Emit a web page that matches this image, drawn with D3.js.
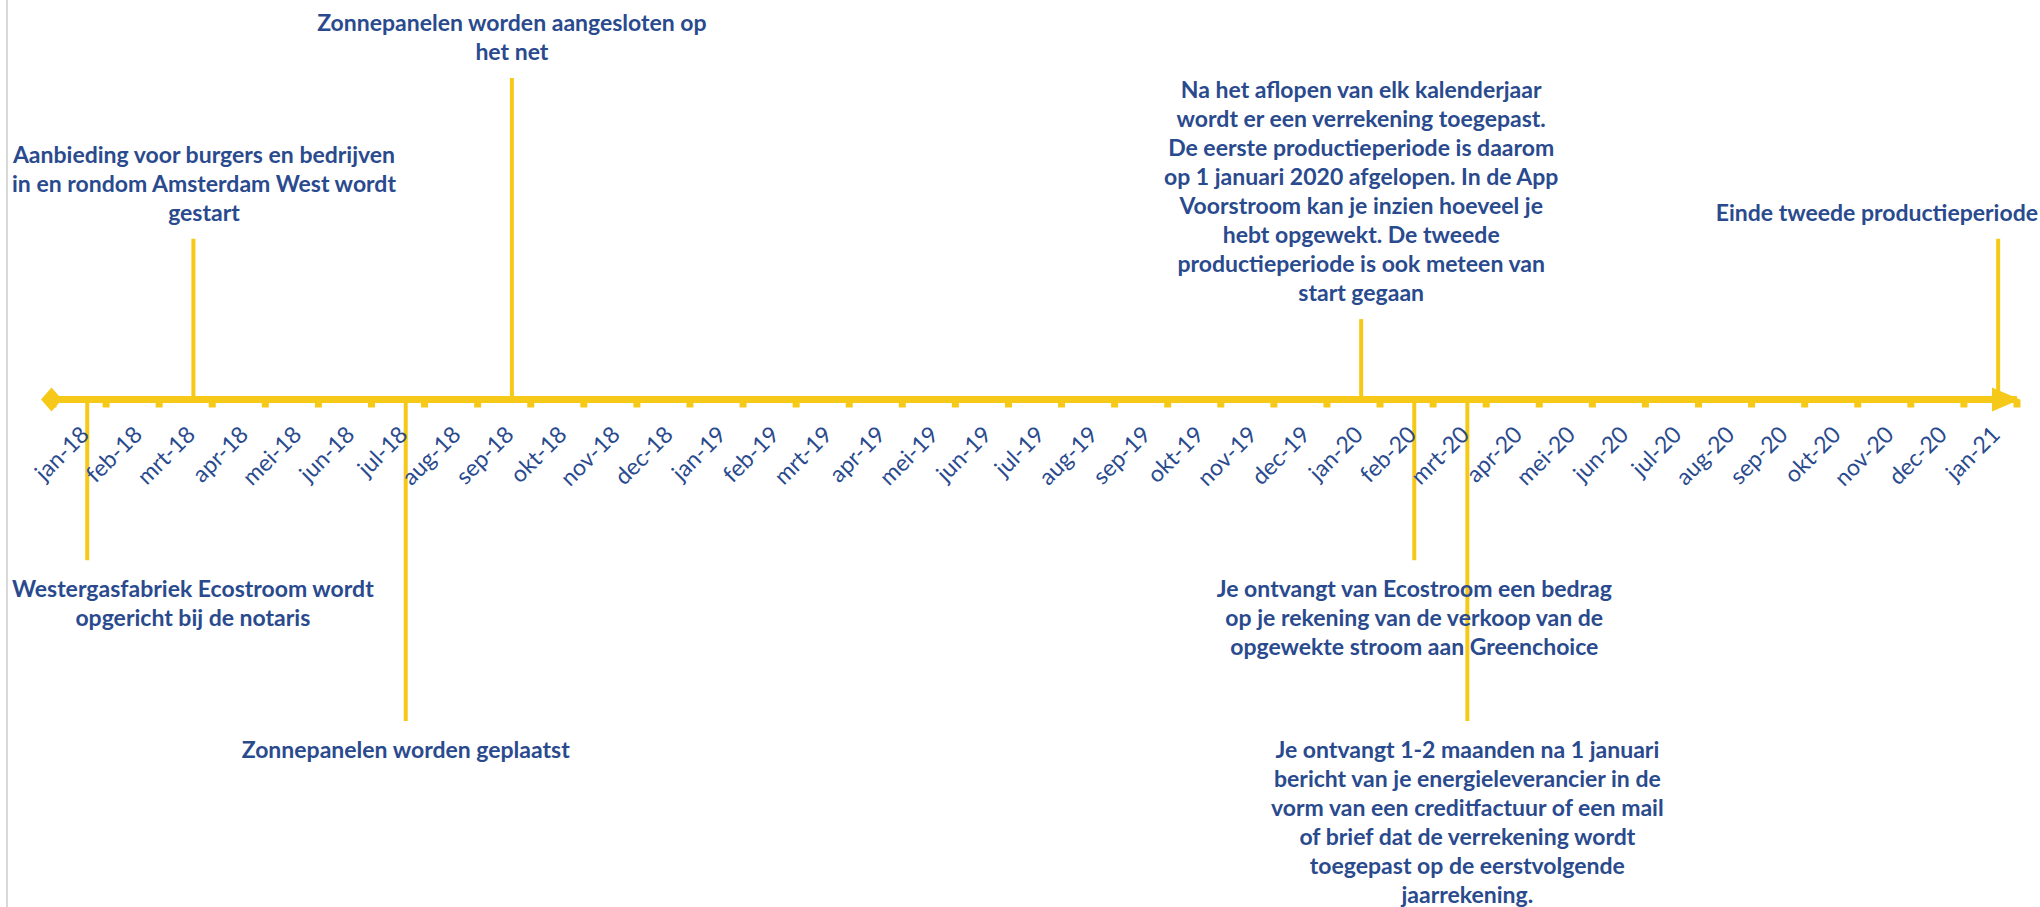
<!DOCTYPE html>
<html>
<head>
<meta charset="utf-8">
<script src="https://cdn.jsdelivr.net/npm/d3@7"></script>
<style>
  html, body { margin: 0; padding: 0; background: #fff; }
  svg { display: block; }
  .month-label { font-family: Lato, 'Open Sans', sans-serif; font-size: 23px; fill: #2a4a8e; }
  .event-label { font-family: Lato, 'Open Sans', sans-serif; font-size: 23px; font-weight: 700; fill: #2a4a8e; }
</style>
</head>
<body>
<div id="chart"></div>
<script>
const months = [
  'jan-18', 'feb-18', 'mrt-18', 'apr-18', 'mei-18', 'jun-18', 'jul-18', 'aug-18', 'sep-18', 'okt-18', 'nov-18', 'dec-18',
  'jan-19', 'feb-19', 'mrt-19', 'apr-19', 'mei-19', 'jun-19', 'jul-19', 'aug-19', 'sep-19', 'okt-19', 'nov-19', 'dec-19',
  'jan-20', 'feb-20', 'mrt-20', 'apr-20', 'mei-20', 'jun-20', 'jul-20', 'aug-20', 'sep-20', 'okt-20', 'nov-20', 'dec-20',
  'jan-21'
];

// events: month, day in month, height (above + / below -) and label lines
const eventMonths = ['jan-18', 'mrt-18', 'jul-18', 'sep-18', 'jan-20', 'feb-20', 'mrt-20', 'jan-21'];
const eventDays = [20, 20, 20, 20, 20, 20, 20, 20];
const eventHeights = [-50, 50, -100, 100, 25, -50, -100, 50];
const eventLabels = [
  ['Westergasfabriek Ecostroom wordt', 'opgericht bij de notaris'],
  ['Aanbieding voor burgers en bedrijven', 'in en rondom Amsterdam West wordt', 'gestart'],
  ['Zonnepanelen worden geplaatst'],
  ['Zonnepanelen worden aangesloten op', 'het net'],
  ['Na het aflopen van elk kalenderjaar', 'wordt er een verrekening toegepast.', 'De eerste productieperiode is daarom',
   'op 1 januari 2020 afgelopen. In de App', 'Voorstroom kan je inzien hoeveel je', 'hebt opgewekt. De tweede',
   'productieperiode is ook meteen van', 'start gegaan'],
  ['Je ontvangt van Ecostroom een bedrag', 'op je rekening van de verkoop van de', 'opgewekte stroom aan Greenchoice'],
  ['Je ontvangt 1-2 maanden na 1 januari', 'bericht van je energieleverancier in de', 'vorm van een creditfactuur of een mail',
   'of brief dat de verrekening wordt', 'toegepast op de eerstvolgende', 'jaarrekening.'],
  ['Einde tweede productieperiode']
];

const width = 2040;
const height = 907;
const gold = '#f6c918';
const lineGap = 29;

const events = eventMonths.map((m, i) => ({ month: m, day: eventDays[i], value: eventHeights[i], lines: eventLabels[i] }));

const svg = d3.select('#chart').append('svg')
  .attr('width', width)
  .attr('height', height);

svg.append('rect').attr('width', width).attr('height', height).attr('fill', '#fff');

// chart area border on the left
svg.append('line')
  .attr('x1', 7).attr('x2', 7)
  .attr('y1', 0).attr('y2', height)
  .attr('stroke', '#d9d9d9')
  .attr('stroke-width', 2);

const x = d3.scaleBand().domain(months).range([53, 2017]).paddingInner(0).paddingOuter(0);
const y = d3.scaleLinear().domain([-100, 100]).range([721, 78]);
const y0 = y(0);
const eventX = (d) => x(d.month) + x.bandwidth() * d.day / 31;

// event stems
svg.append('g')
  .selectAll('line')
  .data(events)
  .join('line')
  .attr('x1', eventX)
  .attr('x2', eventX)
  .attr('y1', y0)
  .attr('y2', (d) => y(d.value))
  .attr('stroke', gold)
  .attr('stroke-width', 4);

// main axis line
const xStart = x.range()[0];
const xEnd = x.range()[1];
svg.append('line')
  .attr('x1', xStart).attr('x2', xEnd)
  .attr('y1', y0).attr('y2', y0)
  .attr('stroke', gold)
  .attr('stroke-width', 7);

// tick marks between months
const boundaries = months.map((m) => x(m)).concat([xEnd]);
svg.append('g')
  .selectAll('line')
  .data(boundaries)
  .join('line')
  .attr('x1', (d) => d)
  .attr('x2', (d) => d)
  .attr('y1', y0)
  .attr('y2', y0 + 8)
  .attr('stroke', gold)
  .attr('stroke-width', 7);

// diamond at start, arrow head at end
svg.append('path')
  .attr('d', `M${xStart - 12},${y0} L${xStart - 1.5},${y0 - 12} L${xStart + 9},${y0} L${xStart - 1.5},${y0 + 12} Z`)
  .attr('fill', gold);
svg.append('path')
  .attr('d', `M${xEnd - 25},${y0 - 12} L${xEnd + 3},${y0} L${xEnd - 25},${y0 + 12} Z`)
  .attr('fill', gold);

// month labels
svg.append('g')
  .selectAll('text')
  .data(months)
  .join('text')
  .attr('class', 'month-label')
  .attr('text-anchor', 'end')
  .attr('transform', (d) => `translate(${x(d) + x.bandwidth() / 2 + 11},436) rotate(-45)`)
  .text((d) => d);

// event labels, kept inside the chart area
const labelGroups = svg.append('g')
  .selectAll('text')
  .data(events)
  .join('text')
  .attr('class', 'event-label')
  .attr('text-anchor', 'middle');

labelGroups.each(function (d) {
  const t = d3.select(this);
  const n = d.lines.length;
  const top = y(d.value);
  d.lines.forEach((line, i) => {
    const cy = d.value > 0 ? top - 26 - (n - 1 - i) * lineGap : top + 29 + i * lineGap;
    t.append('tspan').attr('y', cy).attr('dy', '0.35em').text(line);
  });
  let w = 0;
  t.selectAll('tspan').each(function () { w = Math.max(w, this.getComputedTextLength()); });
  const cx = Math.max(12 + w / 2, Math.min(width - 2 - w / 2, eventX(d)));
  t.selectAll('tspan').attr('x', cx);
});
</script>
</body>
</html>
